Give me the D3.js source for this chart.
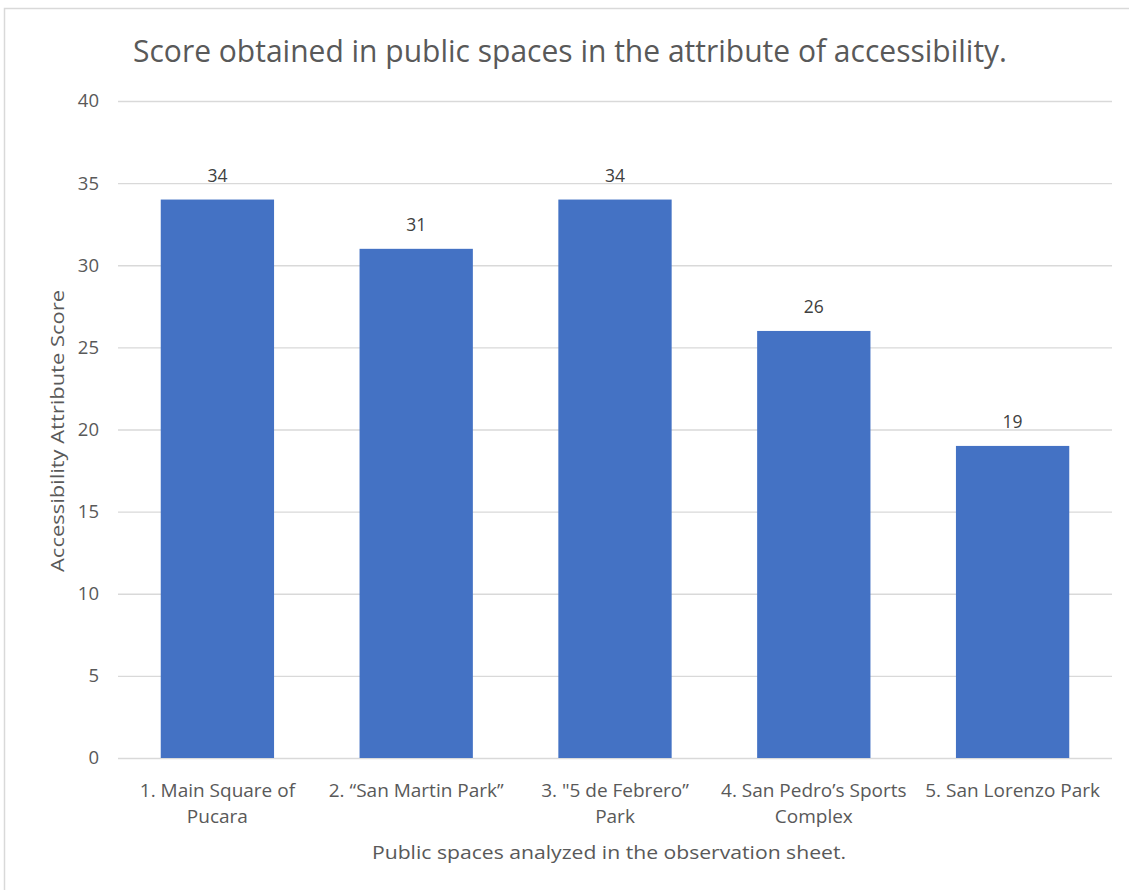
<!DOCTYPE html>
<html>
<head>
<meta charset="utf-8">
<script src="https://cdn.jsdelivr.net/npm/d3@7"></script>
<style>
  html, body { margin: 0; padding: 0; background: #fff; }
  svg { display: block; }
  text { font-family: "Open Sans", "Noto Sans", sans-serif; }
</style>
</head>
<body>
<svg id="chart" width="1129" height="890"></svg>
<script>
// Accessibility scores per public space
const categories = [
  ["1. Main Square of", "Pucara"],
  ["2. \u201CSan Martin Park\u201D"],
  ["3. \"5 de Febrero\u201D", "Park"],
  ["4. San Pedro\u2019s Sports", "Complex"],
  ["5. San Lorenzo Park"]
];
const scores = [34, 31, 34, 26, 19];
const yTicks = [0, 5, 10, 15, 20, 25, 30, 35, 40];

const titleText = "Score obtained in public spaces in the attribute of accessibility.";
const yTitle = "Accessibility Attribute Score";
const xTitle = "Public spaces analyzed in the observation sheet.";

const svg = d3.select("#chart");
const margin = { left: 118, right: 1112, top: 101, bottom: 758 };

// outer chart frame
svg.append("rect")
  .attr("x", 4.5).attr("y", 8.5)
  .attr("width", 1140).attr("height", 900)
  .attr("fill", "#fff")
  .attr("stroke", "#d9d9d9").attr("stroke-width", 1.5);

const x = d3.scaleBand()
  .domain(d3.range(categories.length))
  .range([margin.left, margin.right])
  .paddingInner(0.43).paddingOuter(0.215);

const y = d3.scaleLinear().domain([0, 40]).range([margin.bottom, margin.top]);

// horizontal gridlines + tick labels via axis
const yAxis = d3.axisLeft(y).tickValues(yTicks)
  .tickSize(-(margin.right - margin.left)).tickPadding(19);
const gy = svg.append("g").attr("transform", `translate(${margin.left},0)`).call(yAxis);
gy.select(".domain").remove();
gy.selectAll(".tick line").attr("stroke", "#d9d9d9").attr("stroke-width", 1.3);
gy.selectAll(".tick text")
  .attr("fill", "#595959")
  .style("font-size", "18.5px")
  .style("font-family", "'Open Sans', sans-serif");

// bars
svg.append("g").selectAll("rect")
  .data(scores)
  .join("rect")
  .attr("x", (d, i) => x(i))
  .attr("y", d => y(d))
  .attr("width", x.bandwidth())
  .attr("height", d => y(0) - y(d))
  .attr("fill", "#4472C4");

// value labels
svg.append("g").selectAll("text")
  .data(scores)
  .join("text")
  .attr("x", (d, i) => x(i) + x.bandwidth() / 2)
  .attr("y", d => y(d) - 18)
  .attr("text-anchor", "middle")
  .attr("fill", "#404040")
  .style("font-size", "17.5px")
  .text(d => d);

// category labels
const cg = svg.append("g");
categories.forEach((lines, i) => {
  const t = cg.append("text")
    .attr("x", x(i) + x.bandwidth() / 2)
    .attr("y", 797)
    .attr("text-anchor", "middle")
    .attr("fill", "#595959")
    .style("font-size", "19px");
  lines.forEach((ln, k) => {
    t.append("tspan")
      .attr("x", x(i) + x.bandwidth() / 2)
      .attr("dy", k === 0 ? 0 : 26)
      .text(ln);
  });
});

// title
svg.append("text")
  .attr("x", 570).attr("y", 62)
  .attr("text-anchor", "middle")
  .attr("fill", "#595959")
  .attr("textLength", 874).attr("lengthAdjust", "spacingAndGlyphs")
  .style("font-size", "31px")
  .text(titleText);

// axis titles
svg.append("text")
  .attr("transform", "translate(64,431) rotate(-90)")
  .attr("text-anchor", "middle")
  .attr("fill", "#595959")
  .attr("textLength", 282).attr("lengthAdjust", "spacingAndGlyphs")
  .style("font-size", "19px")
  .text(yTitle);

svg.append("text")
  .attr("x", 609).attr("y", 859)
  .attr("text-anchor", "middle")
  .attr("fill", "#595959")
  .attr("textLength", 474).attr("lengthAdjust", "spacingAndGlyphs")
  .style("font-size", "19px")
  .text(xTitle);
</script>
</body>
</html>
